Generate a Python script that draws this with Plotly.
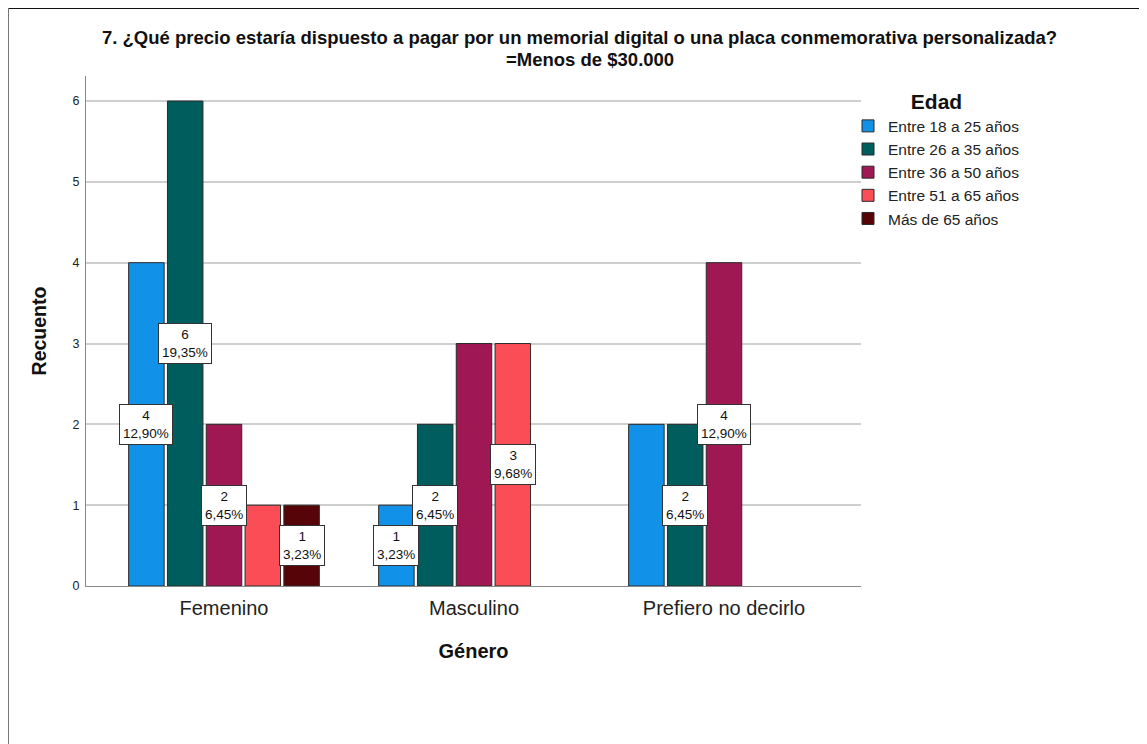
import plotly.graph_objects as go

# ---------------- data ----------------
categories = ["Femenino", "Masculino", "Prefiero no decirlo"]
age_groups = ["Entre 18 a 25 años", "Entre 26 a 35 años", "Entre 36 a 50 años",
              "Entre 51 a 65 años", "Más de 65 años"]
entre_18_25 = [4, 1, 2]
entre_26_35 = [6, 2, 2]
entre_36_50 = [2, 3, 4]
entre_51_65 = [1, 3, 0]
mas_de_65 = [1, 0, 0]
series = [entre_18_25, entre_26_35, entre_36_50, entre_51_65, mas_de_65]
# which data labels are visible in the reference (others hidden by overlap)
labels_18_25 = [True, True, False]
labels_26_35 = [True, True, True]
labels_36_50 = [True, False, True]
labels_51_65 = [False, True, False]
labels_65 = [True, False, False]
label_masks = [labels_18_25, labels_26_35, labels_36_50, labels_51_65, labels_65]

colors = ["#1192e8", "#005d5d", "#9f1853", "#fa4d56", "#570408"]

total = sum(sum(s) for s in series)

FONT = "Liberation Sans, Arial, sans-serif"
OFF = 8  # page body margin
W, H = 1147, 744
L = 86 - OFF
T = 76 - OFF
R = W - (861 - OFF)
B = H - (586 - OFF)
pw, ph = W - L - R, H - T - B
BARGAP = 0.224
BARGROUPGAP = 0.085


def px_x(px):  # screen px -> paper x
    return (px - OFF - L) / pw


def px_y(py):  # screen px -> paper y
    return (H - B - (py - OFF)) / ph


fig = go.Figure()
for name, vals, col in zip(age_groups, series, colors):
    fig.add_trace(go.Bar(
        name=name, x=categories, y=[v if v else None for v in vals],
        marker=dict(color=col, line=dict(color="#2b2b2b", width=1)),
    ))

# data labels
n = len(series)
slot = (1 - BARGAP) / n
for k, (vals, mask) in enumerate(zip(series, label_masks)):
    for i, (v, show) in enumerate(zip(vals, mask)):
        if not show or not v:
            continue
        pct = f"{100 * v / total:.2f}".replace(".", ",")
        fig.add_annotation(
            x=i + (k - (n - 1) / 2) * slot, y=v / 2, xref="x", yref="y",
            text=f"{v}<br>{pct}%", showarrow=False,
            font=dict(family=FONT, size=13.5, color="#111"),
            bgcolor="white", bordercolor="#333", borderwidth=1, borderpad=3,
            align="center",
        )

# title
fig.add_annotation(
    xref="paper", yref="paper", x=px_x(579), y=px_y(37.5),
    text="<b>7. ¿Qué precio estaría dispuesto a pagar por un memorial digital o una placa conmemorativa personalizada?</b>",
    showarrow=False, font=dict(family=FONT, size=18.5, color="#111"), xanchor="center", yanchor="middle",
)
fig.add_annotation(
    xref="paper", yref="paper", x=px_x(590), y=px_y(60),
    text="<b>=Menos de $30.000</b>",
    showarrow=False, font=dict(family=FONT, size=18.5, color="#111"), xanchor="center", yanchor="middle",
)

# frame lines
fig.add_shape(type="line", xref="paper", yref="paper",
              x0=px_x(8), x1=px_x(W + 20), y0=px_y(8.2), y1=px_y(8.2),
              line=dict(color="#111", width=1.6))
fig.add_shape(type="line", xref="paper", yref="paper",
              x0=px_x(8.2), x1=px_x(8.2), y0=px_y(8), y1=px_y(H + 20),
              line=dict(color="#777", width=1.6))

fig.update_layout(
    width=W, height=H,
    margin=dict(l=L, r=R, t=T, b=B, autoexpand=False),
    paper_bgcolor="white", plot_bgcolor="white",
    barmode="group", bargap=BARGAP, bargroupgap=BARGROUPGAP,
    font=dict(family=FONT, color="#222"),
    showlegend=True,
    legend=dict(
        title=dict(text="<b>Edad</b>", side="top center", font=dict(family=FONT, size=21, color="#111")),
        x=px_x(848), xanchor="left", y=px_y(82), yanchor="top",
        font=dict(family=FONT, size=15.5, color="#222"),
        bgcolor="rgba(0,0,0,0)", tracegroupgap=0, itemwidth=30,
    ),
    xaxis=dict(
        type="category", range=[-0.552, 2.548],
        showline=True, linecolor="#888", linewidth=1,
        showgrid=False, ticks="", zeroline=False, ticklabelstandoff=4,
        tickfont=dict(family=FONT, size=20, color="#222"),
        title=dict(text="<b>Género</b>", font=dict(family=FONT, size=20, color="#111"), standoff=25),
    ),
    yaxis=dict(
        range=[0, 6.31], dtick=1,
        showline=True, linecolor="#888", linewidth=1,
        showgrid=True, gridcolor="#cfcfcf", gridwidth=1.5, zeroline=False, ticks="",
        ticklabelstandoff=3,
        tickfont=dict(family=FONT, size=12.5, color="#222"),
        title=dict(text="<b>Recuento</b>", font=dict(family=FONT, size=19.5, color="#111"), standoff=20),
    ),
)

fig.write_html("out.html")
